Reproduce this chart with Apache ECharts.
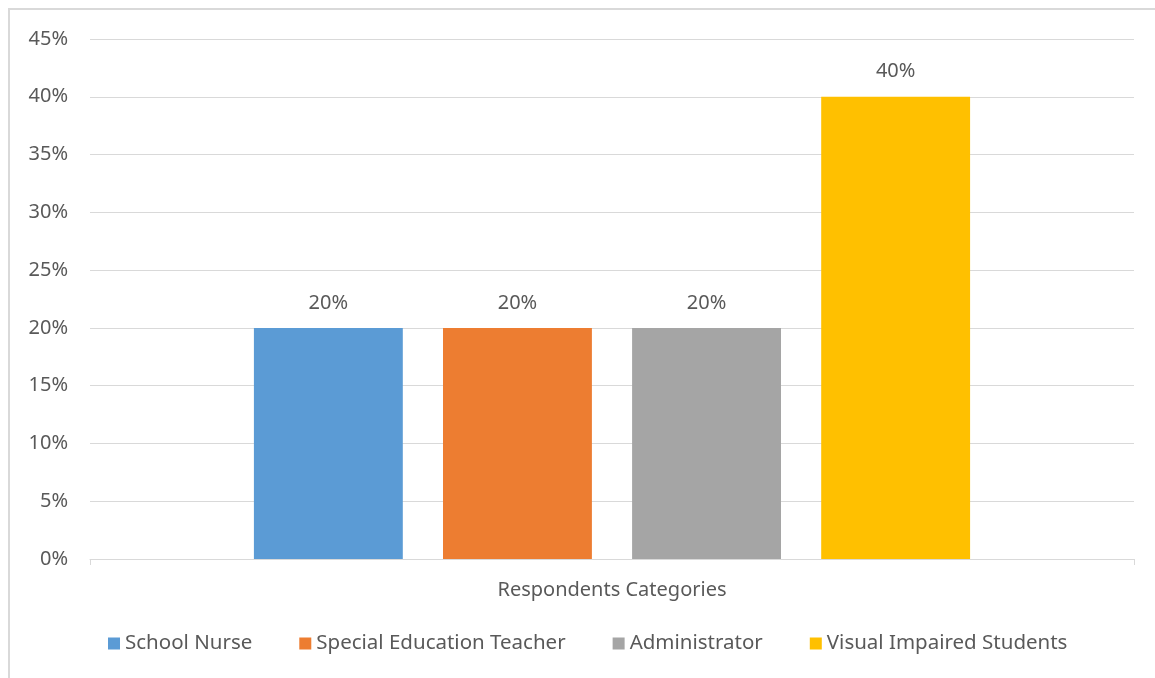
<!DOCTYPE html>
<html>
<head>
<meta charset="utf-8">
<script src="https://cdn.jsdelivr.net/npm/echarts@6/dist/echarts.min.js"></script>
<style>
html,body{margin:0;padding:0;background:#fff;}
#chart{width:1155px;height:678px;}
</style>
</head>
<body>
<div id="chart"></div>
<script>
const categories = ['Respondents Categories'];
const seriesNames = ['School Nurse', 'Special Education Teacher', 'Administrator', 'Visual Impaired Students'];
const seriesValues = [[20], [20], [20], [40]];
const seriesColors = ['#5b9bd5', '#ed7d31', '#a5a5a5', '#ffc000'];
const yTicks = { min: 0, max: 45, interval: 5 };

const FONT = '"Noto Sans", sans-serif';
const FS = 20;
const chart = echarts.init(document.getElementById('chart'));
chart.setOption({
  animation: false,
  backgroundColor: '#fff',
  textStyle: { fontFamily: FONT },
  graphic: [{
    type: 'rect', silent: true,
    shape: { x: 9, y: 9, width: 1200, height: 720 },
    style: { fill: 'none', stroke: '#d9d9d9', lineWidth: 2 }
  }],
  grid: { left: 90, right: 21, top: 39, bottom: 119 },
  legend: {
    bottom: 19,
    left: 103,
    itemWidth: 12, itemHeight: 12, itemGap: 47,
    icon: 'rect',
    textStyle: { color: '#595959', fontSize: 20.5, fontFamily: FONT },
    data: seriesNames
  },
  xAxis: {
    type: 'category',
    data: categories,
    axisLine: { lineStyle: { color: '#d9d9d9', width: 1 } },
    axisTick: { show: true, length: 6, lineStyle: { color: '#d9d9d9' } },
    axisLabel: { color: '#595959', fontSize: FS, margin: 21, fontFamily: FONT }
  },
  yAxis: {
    type: 'value',
    min: yTicks.min, max: yTicks.max, interval: yTicks.interval,
    axisLine: { show: false },
    axisTick: { show: false },
    splitLine: { lineStyle: { color: '#d9d9d9', width: 1 } },
    axisLabel: { formatter: '{value}%', color: '#595959', fontSize: FS, margin: 22, fontFamily: FONT }
  },
  series: seriesNames.map((name, i) => ({
    name: name,
    type: 'bar',
    data: seriesValues[i],
    barGap: '27%',
    barCategoryGap: '31.4%',
    itemStyle: { color: seriesColors[i] },
    label: {
      show: true, position: 'top', distance: 15,
      formatter: '{c}%', color: '#595959', fontSize: FS, fontFamily: FONT
    }
  }))
});
</script>
</body>
</html>
